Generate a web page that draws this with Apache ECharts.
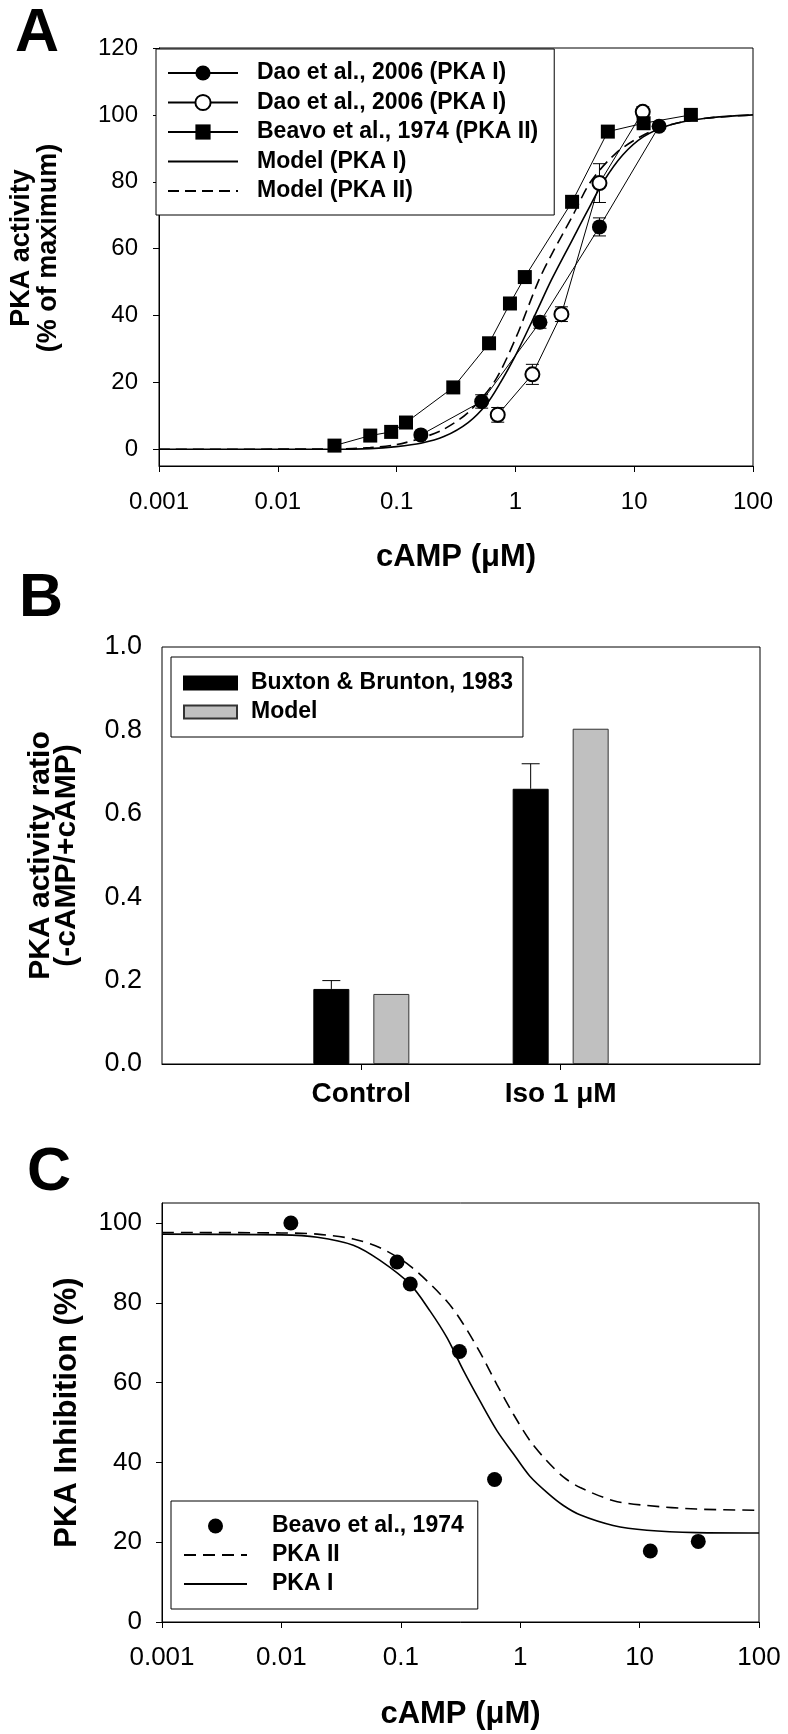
<!DOCTYPE html>
<html><head><meta charset="utf-8">
<script src="https://cdn.jsdelivr.net/npm/echarts@6/dist/echarts.min.js"></script>
<style>html,body{margin:0;padding:0;background:#fff}#c{width:788px;height:1734px}</style>
</head><body><div id="c"></div>
<script>
// ===== Panel A =====
const xTickLabels = ['0.001', '0.01', '0.1', '1', '10', '100'];
const aYTicks = [0, 20, 40, 60, 80, 100, 120];
const aSeriesKeys = ['daoFilled', 'daoOpen', 'beavoII', 'modelI', 'modelII'];
const aLegendLabels = ['Dao et al., 2006 (PKA I)', 'Dao et al., 2006 (PKA I)', 'Beavo et al., 1974 (PKA II)', 'Model (PKA I)', 'Model (PKA II)'];
const daoFilledX = [0.16, 0.52, 1.61, 5.1, 16.2];
const daoFilledY = [4.3, 14.3, 38.0, 66.5, 96.6];
const daoFilledErr = [0, 2.0, 1.8, 2.7, 0];
const daoOpenX = [0.71, 1.39, 2.44, 5.1, 11.8];
const daoOpenY = [10.3, 22.4, 40.4, 79.6, 100.9];
const daoOpenErr = [2.2, 3.0, 2.2, 5.8, 1.5];
const beavoX = [0.03, 0.06, 0.09, 0.12, 0.3, 0.6, 0.9, 1.2, 3, 6, 12, 30];
const beavoY = [1.1, 4.1, 5.2, 8.0, 18.5, 31.7, 43.6, 51.5, 74.0, 95.0, 97.5, 100];
const modelIX = [0.001, 0.03, 0.06, 0.1, 0.16, 0.25, 0.4, 0.58, 0.75, 1, 1.5, 2, 3, 4, 5.5, 8, 12, 20, 40, 100];
const modelIY = [0, 0, 0.2, 0.8, 1.8, 3.8, 8, 13.8, 20, 28, 41, 50.5, 62.5, 71, 80, 88, 93.5, 97, 99, 100];
const modelIIX = [0.001, 0.03, 0.06, 0.1, 0.16, 0.25, 0.4, 0.66, 1, 1.55, 2, 3, 4.3, 7, 12, 20, 40, 100];
const modelIIY = [0, 0.1, 0.5, 1.4, 3.3, 6, 11, 20, 33, 50, 58, 69.5, 80, 88.5, 94, 97, 99, 100];

// ===== Panel B =====
const bCategories = ['', 'Control', 'Iso 1 μM', ''];
const bSeriesNames = ['Buxton & Brunton, 1983', 'Model'];
const buxton = [null, 0.18, 0.66, null];
const buxtonErr = [null, 0.02, 0.06, null];
const bModel = [null, 0.168, 0.804, null];

// ===== Panel C =====
const cSeriesNames = ['Beavo et al., 1974', 'PKA II', 'PKA I'];
const cYTicks = [0, 20, 40, 60, 80, 100];
const cPointsX = [0.012, 0.093, 0.12, 0.31, 0.61, 12.3, 31];
const cPointsY = [100, 90.2, 84.7, 67.8, 35.7, 17.8, 20.2];
const cPkaIX = [0.001, 0.01, 0.02, 0.04, 0.067, 0.12, 0.176, 0.243, 0.335, 0.46, 0.64, 0.88, 1.2, 1.7, 2.3, 3.2, 6, 11.5, 30, 100];
const cPkaIY = [97.2, 97.0, 96.4, 94.4, 90.6, 84.6, 77.9, 71.3, 63.0, 55.4, 47.9, 42.1, 36.6, 32.3, 29.2, 26.8, 24.2, 23.0, 22.4, 22.3];
const cPkaIIX = [0.001, 0.01, 0.02, 0.04, 0.067, 0.12, 0.243, 0.335, 0.462, 0.638, 0.88, 1.21, 1.67, 2.31, 3.18, 6.05, 11.5, 30, 100];
const cPkaIIY = [97.6, 97.5, 97.2, 96.0, 93.8, 89.2, 80.4, 74.6, 67.5, 59.5, 52.0, 45.4, 40.4, 36.3, 33.7, 30.4, 29.2, 28.3, 28.0];

// ===== helpers =====
const zip = (xs, ys) => xs.map((x, i) => [x, ys[i]]);
const zip3 = (xs, ys, es) => xs.map((x, i) => [x, ys[i], es[i]]).filter(d => d[2] > 0);
const FONT = "'Liberation Sans', Arial, Helvetica, sans-serif";
const BLACK = '#000';
const logLabel = v => xTickLabels[Math.round(Math.log10(v)) + 3];
const lineOnly = name => ({ name: name, itemStyle: { opacity: 0 } });

function errBarRender(hw) {
  return function (params, api) {
    const x = api.value(0), y = api.value(1), e = api.value(2);
    const t = api.coord([x, y + e]);
    const b = api.coord([x, y - e]);
    const st = { stroke: BLACK, lineWidth: 1 };
    return { type: 'group', children: [
      { type: 'line', shape: { x1: t[0], y1: t[1], x2: b[0], y2: b[1] }, style: st },
      { type: 'line', shape: { x1: t[0] - hw, y1: t[1], x2: t[0] + hw, y2: t[1] }, style: st },
      { type: 'line', shape: { x1: b[0] - hw, y1: b[1], x2: b[0] + hw, y2: b[1] }, style: st }
    ]};
  };
}

const BAR_W = 36, BAR_GAP_PX = 24;
function bErrRender(params, api) {
  const i = api.value(0), v = api.value(1), e = api.value(2);
  const base = api.coord([i, v]);
  const top = api.coord([i, v + e]);
  const dx = -(BAR_W + BAR_GAP_PX) / 2;
  const x = base[0] + dx;
  const st = { stroke: BLACK, lineWidth: 1 };
  return { type: 'group', children: [
    { type: 'line', shape: { x1: x, y1: base[1], x2: x, y2: top[1] }, style: st },
    { type: 'line', shape: { x1: x - 9, y1: top[1], x2: x + 9, y2: top[1] }, style: st }
  ]};
}

const axisCommon = {
  axisLine: { onZero: false, lineStyle: { color: BLACK, width: 1 } },
  axisTick: { inside: false, length: 6, lineStyle: { color: BLACK, width: 1 } },
  splitLine: { show: false },
  minorTick: { show: false },
  minorSplitLine: { show: false }
};
function logX(grid, fs, margin, nameGap) {
  return Object.assign({}, axisCommon, {
    type: 'log', logBase: 10, gridIndex: grid, min: 0.001, max: 100,
    axisLabel: { formatter: logLabel, fontSize: fs, color: BLACK, margin: margin, fontFamily: FONT },
    name: 'cAMP (μM)', nameLocation: 'middle', nameGap: nameGap,
    nameTextStyle: { fontSize: 31, fontWeight: 'bold', color: BLACK, fontFamily: FONT, lineHeight: 31 }
  });
}
const letterStyle = { fontSize: 61, fontWeight: 'bold', color: BLACK, lineHeight: 61, fontFamily: FONT };

const chart = echarts.init(document.getElementById('c'), null, { renderer: 'canvas' });
const option = {
  animation: false,
  backgroundColor: '#fff',
  textStyle: { fontFamily: FONT },
  title: [
    { text: 'A', left: 15, top: 4, padding: 0, textStyle: letterStyle },
    { text: 'B', left: 19, top: 569, padding: 0, textStyle: letterStyle },
    { text: 'C', left: 27, top: 1143, padding: 0, textStyle: letterStyle }
  ],
  grid: [
    { left: 154, top: 48, width: 599, height: 418, show: true, borderColor: BLACK, borderWidth: 1 },
    { left: 162, top: 647, width: 598, height: 417, show: true, borderColor: BLACK, borderWidth: 1 },
    { left: 162, top: 1203, width: 597, height: 419, show: true, borderColor: BLACK, borderWidth: 1 }
  ],
  xAxis: [
    logX(0, 24, 24, 76),
    Object.assign({}, axisCommon, {
      type: 'category', gridIndex: 1, data: bCategories, boundaryGap: false,
      axisTick: { inside: false, length: 6, lineStyle: { color: BLACK }, interval: (i) => i === 1 || i === 2 },
      axisLabel: { interval: 0, fontSize: 28, fontWeight: 'bold', color: BLACK, margin: 16, fontFamily: FONT }
    }),
    logX(2, 26, 23, 77)
  ],
  yAxis: [
    Object.assign({}, axisCommon, {
      type: 'value', gridIndex: 0, min: -5, max: 120,
      axisTick: { inside: false, length: 6, lineStyle: { color: BLACK }, customValues: aYTicks },
      axisLabel: { customValues: aYTicks, fontSize: 24, color: BLACK, margin: 21, fontFamily: FONT },
      name: 'PKA activity\n(% of maximum)', nameLocation: 'middle', nameRotate: 90, nameGap: 97,
      nameTextStyle: { fontSize: 27, fontWeight: 'bold', color: BLACK, lineHeight: 27, fontFamily: FONT, padding: [0, 0, 0, 18] }
    }),
    Object.assign({}, axisCommon, {
      type: 'value', gridIndex: 1, min: 0, max: 1, interval: 0.2,
      axisLabel: { formatter: v => v.toFixed(1), fontSize: 27, color: BLACK, margin: 20, fontFamily: FONT },
      name: 'PKA activity ratio\n(-cAMP/+cAMP)', nameLocation: 'middle', nameRotate: 90, nameGap: 82,
      nameTextStyle: { fontSize: 30, fontWeight: 'bold', color: BLACK, lineHeight: 26, fontFamily: FONT }
    }),
    Object.assign({}, axisCommon, {
      type: 'value', gridIndex: 2, min: 0, max: 105,
      axisTick: { inside: false, length: 6, lineStyle: { color: BLACK }, customValues: cYTicks },
      axisLabel: { customValues: cYTicks, fontSize: 26, color: BLACK, margin: 20, fontFamily: FONT },
      name: 'PKA Inhibition (%)', nameLocation: 'middle', nameRotate: 90, nameGap: 79,
      nameTextStyle: { fontSize: 31, fontWeight: 'bold', color: BLACK, lineHeight: 31, fontFamily: FONT }
    })
  ],
  legend: [
    {
      data: ['daoFilled', 'daoOpen', 'beavoII', lineOnly('modelI'), lineOnly('modelII')],
      formatter: n => aLegendLabels[aSeriesKeys.indexOf(n)],
      orient: 'vertical', left: 156, top: 49, itemWidth: 70, itemHeight: 19, itemGap: 5.5,
      padding: [12, 16, 12, 11], borderColor: BLACK, borderWidth: 1, backgroundColor: '#fff',
      selectedMode: false,
      textStyle: { fontSize: 23, fontWeight: 'bold', color: BLACK, lineHeight: 24, padding: [0, 0, 0, 14], fontFamily: FONT }
    },
    {
      data: bSeriesNames, orient: 'vertical', left: 171, top: 657, itemWidth: 53, itemHeight: 13, itemGap: 5,
      padding: [14, 10, 13, 12], borderColor: BLACK, borderWidth: 1, backgroundColor: '#fff',
      selectedMode: false, icon: 'rect',
      textStyle: { fontSize: 23, fontWeight: 'bold', color: BLACK, lineHeight: 24, padding: [0, 0, 0, 9], fontFamily: FONT }
    },
    {
      data: [cSeriesNames[0], lineOnly(cSeriesNames[1]), lineOnly(cSeriesNames[2])],
      orient: 'vertical', left: 171, top: 1501, itemWidth: 63, itemHeight: 15, itemGap: 5,
      padding: [13, 14, 13, 12], borderColor: BLACK, borderWidth: 1, backgroundColor: '#fff',
      selectedMode: false,
      textStyle: { fontSize: 23, fontWeight: 'bold', color: BLACK, lineHeight: 24, padding: [0, 0, 0, 20], fontFamily: FONT }
    }
  ],
  series: [
    // ---- A ----
    { type: 'custom', name: 'errFilled', xAxisIndex: 0, yAxisIndex: 0, z: 1, renderItem: errBarRender(6.5), data: zip3(daoFilledX, daoFilledY, daoFilledErr) },
    { type: 'custom', name: 'errOpen', xAxisIndex: 0, yAxisIndex: 0, z: 1, renderItem: errBarRender(6.5), data: zip3(daoOpenX, daoOpenY, daoOpenErr) },
    { type: 'line', name: 'modelI', xAxisIndex: 0, yAxisIndex: 0, z: 2, data: zip(modelIX, modelIY), symbol: 'none', smooth: 0.3,
      lineStyle: { color: BLACK, width: 1.6 }, itemStyle: { color: BLACK } },
    { type: 'line', name: 'modelII', xAxisIndex: 0, yAxisIndex: 0, z: 2, data: zip(modelIIX, modelIIY), symbol: 'none', smooth: 0.3,
      lineStyle: { color: BLACK, width: 1.6, type: [11, 6] }, itemStyle: { color: BLACK } },
    { type: 'line', name: 'daoFilled', xAxisIndex: 0, yAxisIndex: 0, z: 3, data: zip(daoFilledX, daoFilledY), symbol: 'circle', symbolSize: 15,
      lineStyle: { color: BLACK, width: 1 }, itemStyle: { color: BLACK } },
    { type: 'line', name: 'daoOpen', xAxisIndex: 0, yAxisIndex: 0, z: 3, data: zip(daoOpenX, daoOpenY), symbol: 'emptyCircle', symbolSize: 14,
      lineStyle: { color: BLACK, width: 1 }, itemStyle: { color: BLACK, borderColor: BLACK, borderWidth: 1.2 } },
    { type: 'line', name: 'beavoII', xAxisIndex: 0, yAxisIndex: 0, z: 3, data: zip(beavoX, beavoY), symbol: 'rect', symbolSize: 14,
      lineStyle: { color: BLACK, width: 1 }, itemStyle: { color: BLACK } },
    // ---- B ----
    { type: 'bar', name: bSeriesNames[0], xAxisIndex: 1, yAxisIndex: 1, data: buxton, barWidth: BAR_W, barGap: (BAR_GAP_PX / BAR_W * 100) + '%',
      itemStyle: { color: BLACK, borderColor: BLACK, borderWidth: 1 } },
    { type: 'bar', name: bSeriesNames[1], xAxisIndex: 1, yAxisIndex: 1, data: bModel, barWidth: BAR_W,
      itemStyle: { color: '#c0c0c0', borderColor: '#333', borderWidth: 1 } },
    { type: 'custom', name: 'errB', xAxisIndex: 1, yAxisIndex: 1, z: 1, renderItem: bErrRender,
      data: buxton.map((v, i) => v == null ? null : [i, v, buxtonErr[i]]).filter(Boolean) },
    // ---- C ----
    { type: 'scatter', name: cSeriesNames[0], xAxisIndex: 2, yAxisIndex: 2, z: 3, data: zip(cPointsX, cPointsY), symbol: 'circle', symbolSize: 15,
      itemStyle: { color: BLACK, opacity: 1 } },
    { type: 'line', name: cSeriesNames[1], xAxisIndex: 2, yAxisIndex: 2, z: 2, data: zip(cPkaIIX, cPkaIIY), symbol: 'none', smooth: 0.3,
      lineStyle: { color: BLACK, width: 1.6, type: [12, 7] }, itemStyle: { color: BLACK } },
    { type: 'line', name: cSeriesNames[2], xAxisIndex: 2, yAxisIndex: 2, z: 2, data: zip(cPkaIX, cPkaIY), symbol: 'none', smooth: 0.3,
      lineStyle: { color: BLACK, width: 1.6 }, itemStyle: { color: BLACK } }
  ]
};
chart.setOption(option);
</script>
</body></html>
